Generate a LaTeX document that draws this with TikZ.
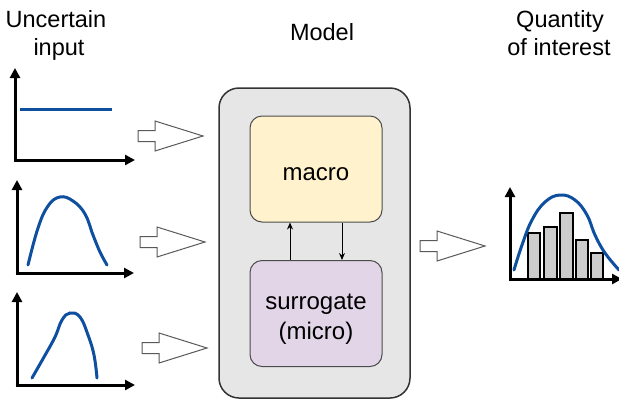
\documentclass[tikz,border=0pt]{standalone}
\usepackage{fontspec}
\setmainfont{Liberation Sans}
\usetikzlibrary{arrows.meta}
\definecolor{curveblue}{HTML}{0F4FA0}
\definecolor{modelgray}{HTML}{E6E6E6}
\definecolor{macrofill}{HTML}{FFF2CC}
\definecolor{surrofill}{HTML}{E1D5E7}
\definecolor{barfill}{HTML}{CCCCCC}
\tikzset{
  lbl/.style={font=\fontsize{23.5}{28}\selectfont, anchor=base, inner sep=0pt},
  boxlbl/.style={font=\fontsize{24}{28}\selectfont, anchor=base, inner sep=0pt},
  axis/.style={line width=3pt, -{Triangle[length=10pt,width=10pt]}},
  curve/.style={curveblue, line width=3pt, line cap=round},
  hollowline/.style={draw=black!65, fill=white, line width=1pt, line join=miter},
  bar/.style={draw=black, fill=barfill, line width=2pt},
  innerbox/.style={draw=black!70, line width=1pt, rounded corners=12pt, minimum width=132pt, minimum height=106pt, inner sep=0pt},
  hollow/.pic={\path[hollowline] (0,-5.5) -- (17,-5.5) -- (17,-15) -- (65,0) -- (17,15) -- (17,5.5) -- (0,5.5) -- cycle;}
}
\begin{document}
\begin{tikzpicture}[x=1pt,y=-1pt]
\useasboundingbox (0,0) rectangle (619,400);
% labels
\node[lbl] (l1) at (56,27) {Uncertain};
\node[lbl] (l2) at (59,55) {input};
\node[lbl] (lm) at (322,40) {Model};
\node[lbl] (q1) at (560,27) {Quantity};
\node[lbl] (q2) at (559,55) {of interest};
% plot 1
\draw[axis] (15,160) -- (15,68);
\draw[axis] (13.5,160) -- (135,160);
\draw[curve, line cap=butt] (20,109) -- (112,109);
% plot 2
\draw[axis] (17,273) -- (17,180);
\draw[axis] (15.5,273) -- (134,273);
\draw[curve] plot[smooth, tension=0.7] coordinates {(28,265) (38,228) (48,206) (60,197) (73,201) (85,214) (93,235) (100,252) (107,265)};
% plot 3
\draw[axis] (17,385) -- (17,292);
\draw[axis] (15.5,385) -- (135,385);
\draw[curve] plot[smooth, tension=0.7] coordinates {(32,378) (44,357) (55,337) (62,320) (70,313) (80,317) (88,335) (94,355) (97,378)};
% hollow arrows
\pic at (138,136) {hollow};
\pic at (140,242) {hollow};
\pic at (142,348) {hollow};
\pic at (420,246) {hollow};
% model
\node[draw=black!80, fill=modelgray, line width=1.5pt, rounded corners=20pt, minimum width=191pt, minimum height=310pt, inner sep=0pt] (model) at (314.5,243) {};
\node[innerbox, fill=macrofill] (macro) at (316,169) {};
\node[innerbox, fill=surrofill] (surro) at (316,313.5) {};
\node[boxlbl] (macrotxt) at (316,180) {macro};
\node[boxlbl] (surrotxt1) at (316,309) {surrogate};
\node[boxlbl] (surrotxt2) at (316,339) {(micro)};
\draw[line width=1pt, -{Stealth[length=7pt,width=6pt]}] ([xshift=-26pt]surro.north) -- ([xshift=-26pt]macro.south);
\draw[line width=1pt, -{Stealth[length=7pt,width=6pt]}] ([xshift=26pt]macro.south) -- ([xshift=26pt]surro.north);
% histogram
\draw[bar] (528,279) rectangle (540,233);
\draw[bar] (543.5,279) rectangle (556.5,227);
\draw[bar] (559.5,279) rectangle (572.5,213);
\draw[bar] (575.5,279) rectangle (588,240);
\draw[bar] (591,279) rectangle (603,253);
\draw[axis] (510,279) -- (510,187);
\draw[axis] (508.5,279) -- (622,279);
\draw[curve] plot[smooth, tension=0.7] coordinates {(514,270) (522,245) (532,220) (545,202) (560,195) (575,200) (587,215) (595,235) (605,253) (619,270)};
\end{tikzpicture}
\end{document}
